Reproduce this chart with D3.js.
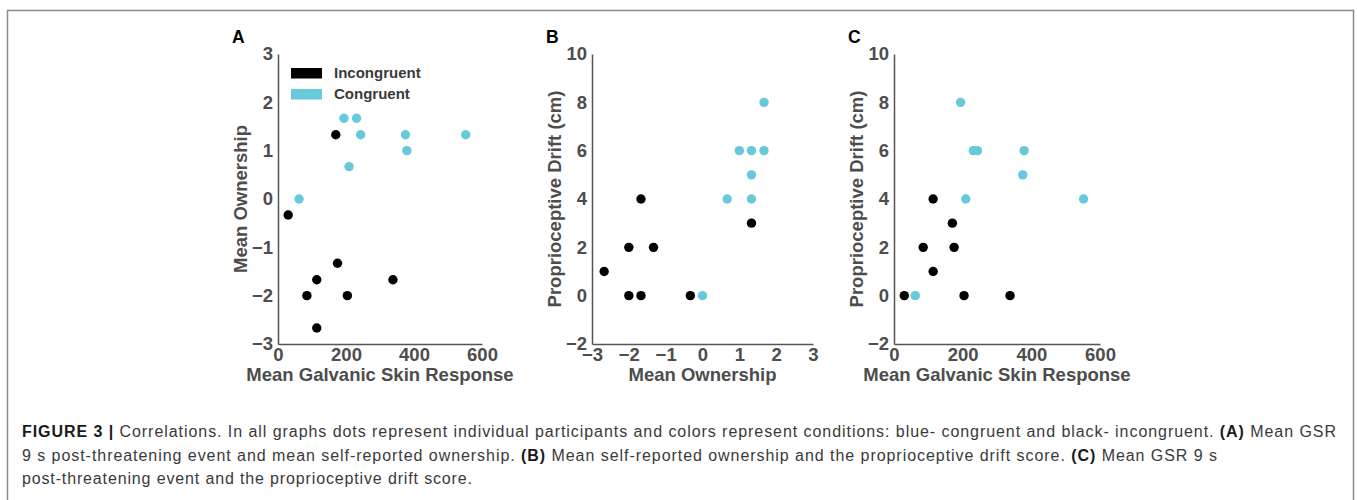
<!DOCTYPE html>
<html>
<head>
<meta charset="utf-8">
<script src="https://cdn.jsdelivr.net/npm/d3@7"></script>
<style>
  body { margin: 0; background: #fff; }
  svg { display: block; }
</style>
</head>
<body>
<svg id="chart" width="1357" height="500"></svg>
<script>
// Per-participant values, one entry per dot
const incongruentGsr = [170, 30, 175, 114, 338, 85, 204, 114];
const incongruentOwnership = [1.33, -0.33, -1.33, -1.67, -1.67, -2, -2, -2.67];
const incongruentDrift = [3, 0, 2, 4, 0, 2, 0, 1];

const congruentGsr = [194, 231, 243, 375, 552, 379, 209, 62];
const congruentOwnership = [1.67, 1.67, 1.33, 1.33, 1.33, 1, 0.67, 0];
const congruentDrift = [8, 6, 6, 5, 4, 6, 4, 0];

const gsrTicks = [0, 200, 400, 600];
const ownershipTicks = [-3, -2, -1, 0, 1, 2, 3];
const driftTicks = [-2, 0, 2, 4, 6, 8, 10];

const legendLabels = ['Incongruent', 'Congruent'];

const captionLines = [
  [['FIGURE 3 | ', true], ['Correlations. In all graphs dots represent individual participants and colors represent conditions: blue- congruent and black- incongruent. ', false], ['(A)', true], [' Mean GSR', false]],
  [['9 s post-threatening event and mean self-reported ownership. ', false], ['(B)', true], [' Mean self-reported ownership and the proprioceptive drift score. ', false], ['(C)', true], [' Mean GSR 9 s', false]],
  [['post-threatening event and the proprioceptive drift score.', false]]
];

const black = '#000000';
const cyan = '#68c9da';
const axisGrey = '#555555';

const svg = d3.select('#chart');

// frame around the figure
svg.append('rect')
  .attr('x', 7.5).attr('y', 10.5)
  .attr('width', 1346).attr('height', 520)
  .attr('fill', 'none')
  .attr('stroke', '#8a8a8a')
  .attr('stroke-width', 1.5);

const panels = [
  {
    letter: 'A', letterX: 232,
    xr: [278, 482], yr: [344, 54],
    xDomain: [0, 600], yDomain: [-3, 3],
    xTicks: gsrTicks, yTicks: ownershipTicks,
    xTitle: 'Mean Galvanic Skin Response', yTitle: 'Mean Ownership', yTitleX: 247,
    inc: [incongruentGsr, incongruentOwnership],
    con: [congruentGsr, congruentOwnership],
    legend: true
  },
  {
    letter: 'B', letterX: 546,
    xr: [592, 813], yr: [344, 54],
    xDomain: [-3, 3], yDomain: [-2, 10],
    xTicks: ownershipTicks, yTicks: driftTicks,
    xTitle: 'Mean Ownership', yTitle: 'Proprioceptive Drift (cm)', yTitleX: 561,
    inc: [incongruentOwnership, incongruentDrift],
    con: [congruentOwnership, congruentDrift],
    legend: false
  },
  {
    letter: 'C', letterX: 848,
    xr: [894, 1100], yr: [344, 54],
    xDomain: [0, 600], yDomain: [-2, 10],
    xTicks: gsrTicks, yTicks: driftTicks,
    xTitle: 'Mean Galvanic Skin Response', yTitle: 'Proprioceptive Drift (cm)', yTitleX: 863,
    inc: [incongruentGsr, incongruentDrift],
    con: [congruentGsr, congruentDrift],
    legend: false
  }
];

const boldFont = 'Liberation Sans, Arial, sans-serif';
const fmt = d3.format('d');

panels.forEach(p => {
  const x = d3.scaleLinear().domain(p.xDomain).range(p.xr);
  const y = d3.scaleLinear().domain(p.yDomain).range(p.yr);
  const g = svg.append('g');

  // x axis
  const xAxis = g.append('g')
    .attr('transform', `translate(0,${p.yr[0]})`)
    .call(d3.axisBottom(x).tickValues(p.xTicks).tickFormat(fmt).tickSize(0).tickPadding(4));
  // y axis
  const yAxis = g.append('g')
    .attr('transform', `translate(${p.xr[0]},0)`)
    .call(d3.axisLeft(y).tickValues(p.yTicks).tickFormat(fmt).tickSize(0).tickPadding(5));

  [xAxis, yAxis].forEach(a => {
    a.select('.domain').attr('stroke', axisGrey).attr('stroke-width', 1.5);
    a.selectAll('text')
      .attr('fill', '#4d4d4d')
      .style('font-family', boldFont)
      .style('font-weight', 'bold')
      .style('font-size', '18.5px');
  });

  // axis titles
  g.append('text')
    .attr('x', (p.xr[0] + p.xr[1]) / 2)
    .attr('y', 381)
    .attr('text-anchor', 'middle')
    .attr('fill', '#4d4d4d')
    .style('font-family', boldFont)
    .style('font-weight', 'bold')
    .style('font-size', '18.5px')
    .text(p.xTitle);

  g.append('text')
    .attr('transform', `translate(${p.yTitleX},${(p.yr[0] + p.yr[1]) / 2}) rotate(-90)`)
    .attr('text-anchor', 'middle')
    .attr('fill', '#4d4d4d')
    .style('font-family', boldFont)
    .style('font-weight', 'bold')
    .style('font-size', '18.5px')
    .text(p.yTitle);

  // panel letter
  g.append('text')
    .attr('x', p.letterX)
    .attr('y', 43)
    .attr('fill', '#000')
    .style('font-family', boldFont)
    .style('font-weight', 'bold')
    .style('font-size', '17.5px')
    .text(p.letter);

  // dots
  const series = [
    { xs: p.inc[0], ys: p.inc[1], color: black },
    { xs: p.con[0], ys: p.con[1], color: cyan }
  ];
  series.forEach(s => {
    g.append('g')
      .selectAll('circle')
      .data(s.xs.map((v, i) => [v, s.ys[i]]))
      .join('circle')
      .attr('cx', d => x(d[0]))
      .attr('cy', d => y(d[1]))
      .attr('r', 4.7)
      .attr('fill', s.color);
  });

  if (p.legend) {
    const lg = g.append('g').attr('transform', `translate(${p.xr[0] + 13},68)`);
    legendLabels.forEach((lab, i) => {
      lg.append('rect')
        .attr('x', 0).attr('y', i * 21)
        .attr('width', 31).attr('height', 10.5)
        .attr('fill', i === 0 ? black : cyan);
      lg.append('text')
        .attr('x', 43).attr('y', i * 21 + 10)
        .attr('fill', '#3a3a3a')
        .style('font-family', boldFont)
        .style('font-weight', 'bold')
        .style('font-size', '15px')
        .text(lab);
    });
  }
});

// caption
const captionEnds = [1336, 1217, 472];
captionLines.forEach((line, i) => {
  const t = svg.append('text')
    .attr('x', 22)
    .attr('y', 437 + i * 23.5)
    .attr('fill', '#3a3a3a')
    .attr('textLength', captionEnds[i] - 22)
    .attr('lengthAdjust', 'spacing')
    .style('font-family', 'Liberation Sans, Arial, sans-serif')
    .style('font-size', '16px');
  line.forEach(([txt, bold]) => {
    t.append('tspan')
      .style('font-weight', bold ? 'bold' : 'normal')
      .attr('fill', bold ? '#1a1a1a' : null)
      .text(txt);
  });
});
</script>
</body>
</html>
